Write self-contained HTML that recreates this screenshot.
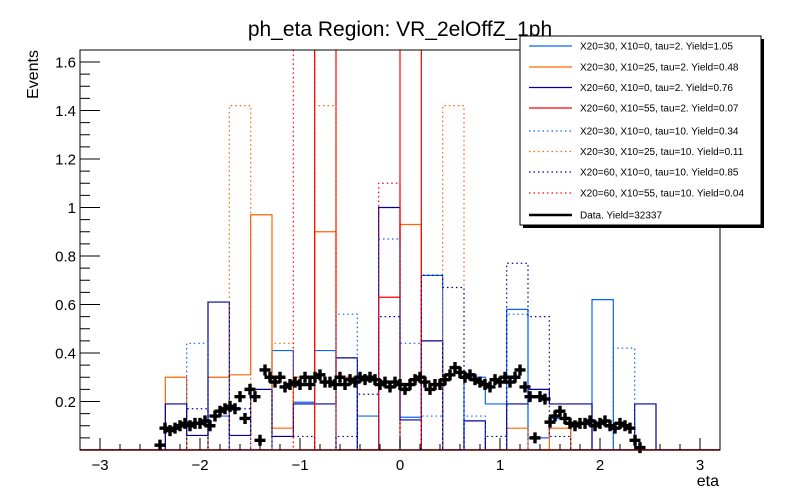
<!DOCTYPE html>
<html><head><meta charset="utf-8"><style>
body{margin:0;background:#fff;}
svg{display:block;font-family:"Liberation Sans",sans-serif;}
</style></head><body>
<svg id="chart" width="800" height="500" viewBox="0 0 800 500" xmlns="http://www.w3.org/2000/svg">
<rect width="800" height="500" fill="#fff"/>
<text x="400" y="36" font-size="21" text-anchor="middle">ph_eta Region: VR_2elOffZ_1ph</text>
<defs><clipPath id="fr"><rect x="80" y="50" width="640" height="400"/></clipPath></defs>
<g id="hists" clip-path="url(#fr)"></g>
<g id="data"></g>
<line x1="80" y1="450" x2="720" y2="450" stroke="#ff0000" stroke-width="1.5"/>
<rect x="80" y="50" width="640" height="400" fill="none" stroke="#000" stroke-width="1"/>
<g id="axes"></g>
<text x="719" y="486" font-size="16" text-anchor="end">eta</text>
<text transform="translate(38,50) rotate(-90)" font-size="16" text-anchor="end">Events</text>
<g id="legend"></g>
</svg>
<script>
const binLow = -3.2, binWidth = 6.4/30;
// bin index -> value for each series (bins 0..29)
const sA = {6:0.14,9:0.41,10:0.197,11:0.41,13:0.14,15:0.135,16:0.72,18:0.30,19:0.19,20:0.58,21:0.05,22:0.13,24:0.62};
const sB = {4:0.30,6:0.30,7:0.31,8:0.97,9:0.09,10:0.30,11:0.90,12:0.30,15:0.93,20:0.09,22:0.09};
const sC = {4:0.19,5:0.06,6:0.61,7:0.06,8:0.25,9:0.056,10:0.19,11:0.19,12:0.38,14:1.00,15:0.124,16:0.45,18:0.12,20:0.19,21:0.25,22:0.19,23:0.19,26:0.19};
const sD = {11:2.0,14:0.63,15:2.0};
const sE = {5:0.44,12:0.56,14:0.87,15:0.44,16:0.14,18:0.14,20:0.56,25:0.42};
const sF = {7:1.42,9:0.44,11:1.42,17:1.42};
const sG = {5:0.17,7:0.17,9:0.056,10:0.056,12:0.056,13:0.23,14:0.55,16:0.72,17:0.67,19:0.056,20:0.77,21:0.55,22:0.056};
const sH = {10:2.0,14:1.10};
const seriesLabels = ["X20=30, X10=0, tau=2. Yield=1.05","X20=30, X10=25, tau=2. Yield=0.48","X20=60, X10=0, tau=2. Yield=0.76","X20=60, X10=55, tau=2. Yield=0.07","X20=30, X10=0, tau=10. Yield=0.34","X20=30, X10=25, tau=10. Yield=0.11","X20=60, X10=0, tau=10. Yield=0.85","X20=60, X10=55, tau=10. Yield=0.04","Data. Yield=32337"];
const dataEta = [-2.4,-2.35,-2.3,-2.25,-2.2,-2.15,-2.1,-2.05,-2.0,-1.95,-1.9,-1.85,-1.8,-1.75,-1.7,-1.65,-1.6,-1.55,-1.5,-1.45,-1.4,-1.35,-1.3,-1.25,-1.2,-1.15,-1.1,-1.05,-1.0,-0.95,-0.9,-0.85,-0.8,-0.75,-0.7,-0.65,-0.6,-0.55,-0.5,-0.45,-0.4,-0.35,-0.3,-0.25,-0.2,-0.15,-0.1,-0.05,0,0.05,0.1,0.15,0.2,0.25,0.3,0.35,0.4,0.45,0.5,0.55,0.6,0.65,0.7,0.75,0.8,0.85,0.9,0.95,1.0,1.05,1.1,1.15,1.2,1.25,1.3,1.35,1.4,1.45,1.5,1.55,1.6,1.65,1.7,1.75,1.8,1.85,1.9,1.95,2.0,2.05,2.1,2.15,2.2,2.25,2.3,2.35,2.4];
const dataVal = [0.02,0.09,0.08,0.09,0.10,0.11,0.10,0.11,0.11,0.12,0.10,0.14,0.16,0.17,0.18,0.17,0.22,0.13,0.25,0.22,0.04,0.33,0.30,0.28,0.30,0.26,0.27,0.28,0.27,0.30,0.27,0.30,0.31,0.28,0.28,0.27,0.30,0.27,0.29,0.28,0.30,0.29,0.30,0.29,0.27,0.28,0.26,0.28,0.27,0.25,0.27,0.29,0.30,0.28,0.25,0.27,0.27,0.29,0.31,0.34,0.32,0.30,0.31,0.29,0.28,0.27,0.26,0.29,0.28,0.30,0.28,0.30,0.33,0.26,0.22,0.05,0.22,0.21,0.115,0.14,0.16,0.13,0.11,0.10,0.11,0.11,0.12,0.10,0.11,0.12,0.10,0.09,0.11,0.10,0.09,0.04,0.01];
const xTicks = [-3,-2,-1,0,1,2,3];
const yTicks = [0.2,0.4,0.6,0.8,1,1.2,1.4,1.6];

const NS="http://www.w3.org/2000/svg";
const X = v => 400 + v*100;
const Y = v => 450 - v*242.5;
function mk(t,p,a){const e=document.createElementNS(NS,t);for(const k in a)e.setAttribute(k,a[k]);p.appendChild(e);return e;}
const styles=[["#0a64ff",""],["#ff6600",""],["#000099",""],["#ff0000",""],["#0a64ff","1.5,3"],["#ff6600","1.5,3"],["#000099","1.5,3"],["#ff0000","1.5,3"]];
const series=[sA,sB,sC,sD,sE,sF,sG,sH];
const hg=document.getElementById('hists');
series.forEach((s,i)=>{
  let d="M"+X(binLow)+","+Y(0);
  for(let k=0;k<30;k++){const v=s[k]||0;d+=" L"+X(binLow+k*binWidth)+","+Y(v)+" L"+X(binLow+(k+1)*binWidth)+","+Y(v);}
  d+=" L"+X(binLow+30*binWidth)+","+Y(0);
  const p=mk('path',hg,{d:d,fill:'none',stroke:styles[i][0],'stroke-width':1.2,'stroke-dasharray':styles[i][1]});
  
  
});
const dg=document.getElementById('data');
dataEta.forEach((e,i)=>{
  const x=X(e),y=Y(dataVal[i]);
  const p=mk('path',dg,{d:`M${x-5.5},${y} H${x+5.5} M${x},${y-5.5} V${y+5.5}`,stroke:'#000','stroke-width':3.4});
  
  
});
const ag=document.getElementById('axes');
for(let v=-3.2;v<=3.2001;v+=0.2){const x=X(v);const maj=Math.abs(v-Math.round(v))<1e-6;mk('line',ag,{x1:x,x2:x,y1:450,y2:maj?438:444,stroke:'#000'});}
xTicks.forEach(t=>{const l=mk('text',ag,{x:X(t),y:470,'font-size':15,'text-anchor':'middle'});l.textContent=(t<0?'\u2212':'')+Math.abs(t);});
for(let v=0.05;v<=1.65;v+=0.05){const y=Y(v);const maj=Math.abs(v*5-Math.round(v*5))<1e-6;mk('line',ag,{x1:80,x2:maj?100:90,y1:y,y2:y,stroke:'#000'});}
yTicks.forEach(t=>{const l=mk('text',ag,{x:76,y:Y(t)+5.5,'font-size':15,'text-anchor':'end'});l.textContent=String(t);});
const lg=document.getElementById('legend');
mk('rect',lg,{x:523,y:39,width:241,height:189,fill:'#000'});
mk('rect',lg,{x:520,y:36,width:241,height:189,fill:'#fff',stroke:'#000'});
const ly=[46,67,87.5,108,131,151.5,172,193,215];
seriesLabels.forEach((lab,i)=>{
  const st=i<8?styles[i]:['#000',''];
  const ln=mk('line',lg,{x1:529,x2:572,y1:ly[i],y2:ly[i],stroke:st[0],'stroke-width':i<8?1.2:2.5,'stroke-dasharray':st[1]});
  
  
  const t=mk('text',lg,{x:580,y:ly[i]+3.5,'font-size':10});
  t.textContent=lab;
  
  
});
</script>
</body></html>
